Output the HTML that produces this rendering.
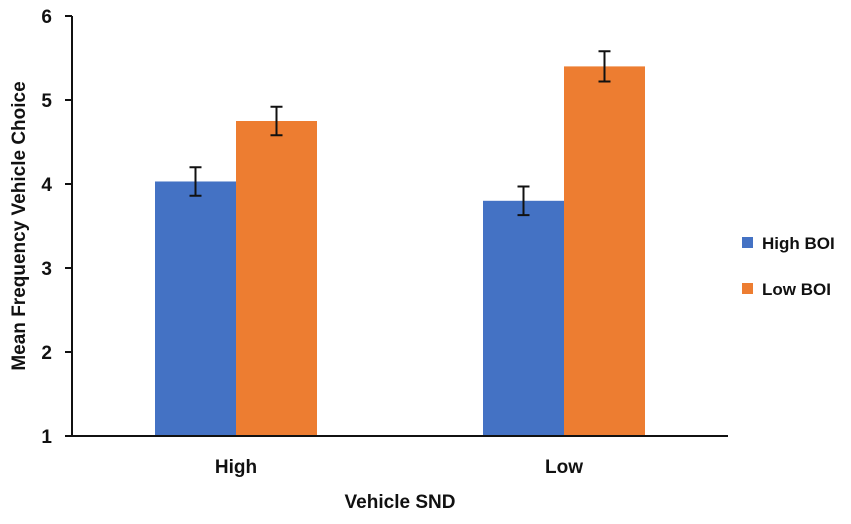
<!DOCTYPE html>
<html><head><meta charset="utf-8"><style>
body{margin:0;background:#fff;}
svg text{font-family:"Liberation Sans",sans-serif;font-weight:bold;fill:#111;}
</style></head><body>
<svg id="chart" width="851" height="519" xmlns="http://www.w3.org/2000/svg"></svg>
<script>
const categories = ["High", "Low"];
const seriesNames = ["High BOI", "Low BOI"];
const highBOI = [4.03, 3.80];
const lowBOI = [4.75, 5.40];
const highBOIErr = [0.17, 0.17];
const lowBOIErr = [0.17, 0.18];
const yTicks = [1, 2, 3, 4, 5, 6];

const NS = "http://www.w3.org/2000/svg";
const svg = document.getElementById("chart");
const x0 = 72, x1 = 728, yTop = 16, yBot = 436, yMin = 1, yMax = 6;
const colors = ["#4472C4", "#ED7D31"];
const yScale = v => yBot - (v - yMin) / (yMax - yMin) * (yBot - yTop);
const band = (x1 - x0) / categories.length;
const xCenter = i => x0 + band * (i + 0.5);
const barW = 81;
function el(tag, attrs, text) {
  const e = document.createElementNS(NS, tag);
  for (const k in attrs) e.setAttribute(k, attrs[k]);
  if (text !== undefined) e.textContent = text;
  svg.appendChild(e);
  return e;
}
const series = [highBOI, lowBOI];
const errs = [highBOIErr, lowBOIErr];
series.forEach((vals, s) => {
  vals.forEach((v, i) => {
    const x = xCenter(i) - barW + s * barW;
    const r = el("rect", {x: x, y: yScale(v), width: barW, height: yBot - yScale(v), fill: colors[s]});
    
    
    const cx = x + barW / 2, hi = yScale(v + errs[s][i]), lo = yScale(v - errs[s][i]);
    const g = el("path", {d: `M${cx},${hi}V${lo}M${cx-6},${hi}H${cx+6}M${cx-6},${lo}H${cx+6}`, stroke: "#111", "stroke-width": 2, fill: "none"});
    
    
  });
});
const ax = el("path", {d: `M${x0},${yTop}V${yBot}H${x1}`, stroke: "#111", "stroke-width": 2, fill: "none"});


yTicks.forEach(t => {
  const tk = el("line", {x1: x0 - 7, x2: x0, y1: yScale(t), y2: yScale(t), stroke: "#111", "stroke-width": 2});
  
  
  const lb = el("text", {x: 52, y: yScale(t) + 7, "text-anchor": "end", "font-size": 19}, t);
  
  
});
categories.forEach((c, i) => {
  const lb = el("text", {x: xCenter(i), y: 473, "text-anchor": "middle", "font-size": 19}, c);
  
  
});
const xt = el("text", {x: 400, y: 508, "text-anchor": "middle", "font-size": 19}, "Vehicle SND");


const yt = el("text", {x: 0, y: 0, "text-anchor": "middle", "font-size": 19, transform: "translate(25,226) rotate(-90)"}, "Mean Frequency Vehicle Choice");


seriesNames.forEach((n, s) => {
  const y = 243 + s * 46;
  const sw = el("rect", {x: 742, y: y - 6, width: 11, height: 11, fill: colors[s]});
  
  
  const lb = el("text", {x: 762, y: y + 6, "font-size": 17}, n);
  
  
});
</script>
</body></html>
